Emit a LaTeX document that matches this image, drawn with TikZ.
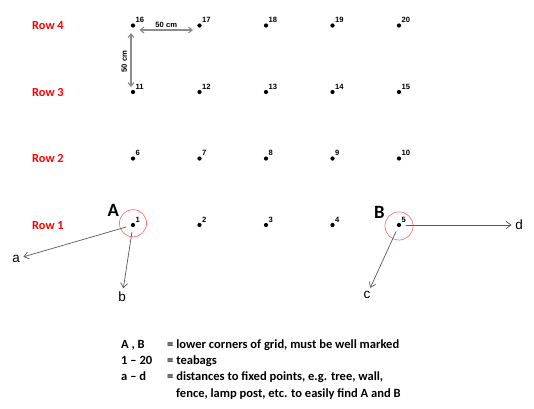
\documentclass[tikz,border=0pt]{standalone}
\usepackage{fontspec}
\setmainfont{Carlito}
\newfontfamily\arialfont{Liberation Sans}
\usetikzlibrary{arrows.meta,positioning}

\begin{document}
\begin{tikzpicture}[x=0.03cm,y=-0.03cm,
    dot/.style={circle,fill=black,inner sep=0pt,minimum size=3.6pt},
    num/.style={font=\arialfont\bfseries\fontsize{6.5}{7}\selectfont,inner sep=0pt,anchor=south west},
    rowlbl/.style={font=\bfseries\fontsize{10.5}{12}\selectfont,text=red,anchor=west,inner sep=0pt},
    corner/.style={font=\bfseries\fontsize{16}{18}\selectfont,inner sep=0pt},
    ring/.style={draw=red!55,line width=0.6pt},
    distlbl/.style={font=\arialfont\fontsize{11.5}{13}\selectfont,inner sep=1pt},
    dist/.style={draw=black!65,line width=0.6pt,-{Straight Barb[length=4pt,width=6pt]},shorten <=4pt,shorten >=2pt},
    dim/.style={draw=black!45,line width=1pt,{Straight Barb[length=3pt,width=5pt]}-{Straight Barb[length=3pt,width=5pt]}},
    dimlbl/.style={font=\arialfont\bfseries\fontsize{6.5}{8}\selectfont,inner sep=1pt},
    legend/.style={font=\bfseries\fontsize{10.7}{12}\selectfont,anchor=base west,inner sep=0pt}
  ]
    \useasboundingbox (0,0) rectangle (534,408);

    % Teabag grid, 4 rows of 5
    \foreach \r in {0,...,3}{
      \foreach \c in {1,...,5}{
        \pgfmathtruncatemacro{\n}{5*\r+\c}
        \node[dot] (p\n) at ({133+66.5*(\c-1)},{225-66.5*\r}) {};
        \node[num] (n\n) at ([xshift=2pt,yshift=2.2pt]p\n.center) {\n};
      }
    }

    % Row labels
    \node[rowlbl] (r4) at (32,26) {Row 4};
    \node[rowlbl] (r3) at (32,93) {Row 3};
    \node[rowlbl] (r2) at (32,159) {Row 2};
    \node[rowlbl] (r1) at (32,226) {Row 1};

    % Spacing of the grid
    \coordinate (h1) at (139.5,30);
    \coordinate (h2) at (193,30);
    \draw[dim] (h1) -- node[dimlbl,above=1pt] (hl) {50 cm} (h2);
    \coordinate (v1) at (131,33);
    \coordinate (v2) at (131,87);
    \draw[dim] (v1) -- (v2);
    \node[dimlbl,rotate=90] (vl) at (124.3,61.7) {50 cm};

    % Lower corners
    \node[corner] (A) at (113.3,210.7) {A};
    \node[corner] (B) at (379.3,212.3) {B};
    \draw[ring] ([yshift=1.5pt]p1.center) circle[radius=11.6pt];
    \draw[ring] ([yshift=-0.8pt]p5.center) circle[radius=12pt];

    % Distances to fixed points
    \node[distlbl] (la) at (16,259) {a};
    \node[distlbl] (lb) at (122,297) {b};
    \node[distlbl] (lc) at (367,295) {c};
    \node[distlbl] (ld) at (519,225) {d};
    \draw[dist] (p1) -- (la);
    \draw[dist] (p1) -- (lb);
    \draw[dist] (p5) -- (lc);
    \draw[dist] (p5) -- (ld);

    % Legend
    \node[legend] (k1) at (121,348) {A , B};
    \node[legend] (t1) at (167,348) {= lower corners of grid, must be well marked};
    \node[legend] (k2) at (121,364) {1 -- 20};
    \node[legend] (t2) at (167,364) {= teabags};
    \node[legend] (k3) at (121,380) {a -- d};
    \node[legend] (t3) at (167,380) {= distances to fixed points, e.g. tree, wall,};
    \node[legend] (t4) at (176,397) {fence, lamp post, etc. to easily find A and B};
  \end{tikzpicture}
\end{document}
